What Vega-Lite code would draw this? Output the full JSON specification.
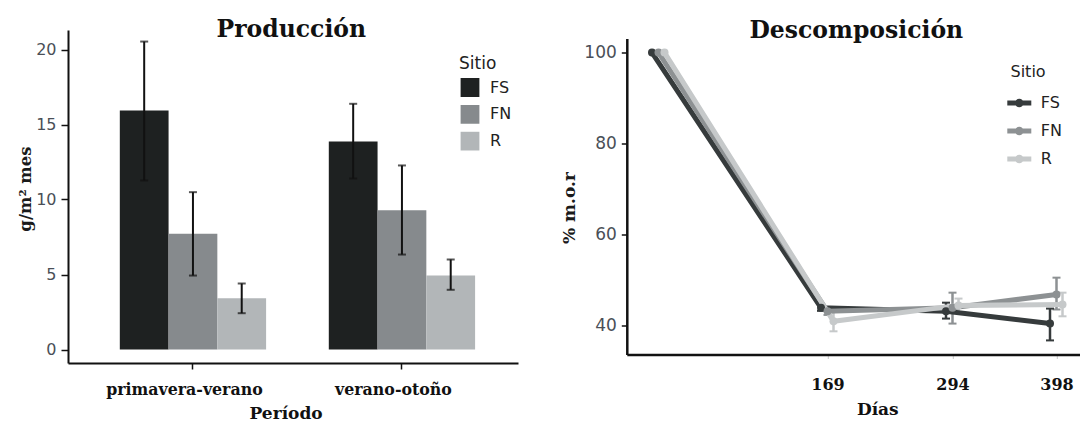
{
  "$schema": "https://vega.github.io/schema/vega-lite/v6.json",
  "background": "white",
  "padding": {"left": 17, "top": 17, "right": 0, "bottom": 0},
  "config": {
    "view": {"stroke": null},
    "axis": {"grid": false}
  },
  "datasets": {
    "produccion": [
      {"periodo": "primavera-verano", "sitio": "FS", "valor": 15.93, "min": 11.27, "max": 20.53},
      {"periodo": "primavera-verano", "sitio": "FN", "valor": 7.71, "min": 4.93, "max": 10.49},
      {"periodo": "primavera-verano", "sitio": "R", "valor": 3.42, "min": 2.42, "max": 4.4},
      {"periodo": "verano-otoño", "sitio": "FS", "valor": 13.87, "min": 11.4, "max": 16.38},
      {"periodo": "verano-otoño", "sitio": "FN", "valor": 9.29, "min": 6.33, "max": 12.27},
      {"periodo": "verano-otoño", "sitio": "R", "valor": 4.93, "min": 3.98, "max": 6.0}
    ],
    "descomposicion": [
      {"dias": 0, "sitio": "FS", "pct": 100, "min": null, "max": null},
      {"dias": 0, "sitio": "FN", "pct": 100, "min": null, "max": null},
      {"dias": 0, "sitio": "R", "pct": 100, "min": null, "max": null},
      {"dias": 169, "sitio": "FS", "pct": 43.9, "min": 43.2, "max": 44.6},
      {"dias": 169, "sitio": "FN", "pct": 43.1, "min": 42.3, "max": 43.9},
      {"dias": 169, "sitio": "R", "pct": 40.9, "min": 38.7, "max": 43.0},
      {"dias": 294, "sitio": "FS", "pct": 43.1, "min": 41.5, "max": 45.0},
      {"dias": 294, "sitio": "FN", "pct": 43.9, "min": 40.4, "max": 47.2},
      {"dias": 294, "sitio": "R", "pct": 44.4, "min": 42.8, "max": 45.9},
      {"dias": 398, "sitio": "FS", "pct": 40.4, "min": 36.7, "max": 43.7},
      {"dias": 398, "sitio": "FN", "pct": 46.8, "min": 43.5, "max": 50.5},
      {"dias": 398, "sitio": "R", "pct": 44.6, "min": 42.0, "max": 47.2}
    ]
  },
  "hconcat": [
    {
      "width": 450,
      "height": 333,
      "title": {"text": "Producción", "font": "DejaVu Serif", "fontSize": 23.5, "fontWeight": "bold", "color": "#111111", "baseline": "alphabetic", "offset": -30.4, "dx": -1.7},
      "data": {"name": "produccion"},
      "encoding": {
        "x": {
          "field": "periodo", "type": "nominal", "sort": ["primavera-verano", "verano-otoño"], "title": "Período",
          "scale": {"paddingInner": 0.3, "paddingOuter": 0.2266, "align": 0.547},
          "axis": {
            "labelFont": "DejaVu Serif", "labelFontSize": 15.8, "labelFontWeight": "bold", "labelColor": "#111111",
            "labelAngle": 0, "labelOffset": -8.5, "labelBaseline": "alphabetic", "labelPadding": 25,
            "tickSize": 6, "tickColor": "#111111", "tickWidth": 1.5, "domainColor": "#111111", "domainWidth": 2,
            "titleFont": "DejaVu Serif", "titleFontSize": 17, "titleFontWeight": "bold", "titleColor": "#111111",
            "titleX": 217.6, "titleY": 55.5, "titleBaseline": "alphabetic"
          }
        },
        "xOffset": {"field": "sitio", "type": "nominal", "sort": ["FS", "FN", "R"], "scale": {"paddingInner": 0, "paddingOuter": 0}}
      },
      "layer": [
        {
          "mark": {"type": "bar"},
          "encoding": {
            "y": {
              "field": "valor", "type": "quantitative", "title": "g/m² mes",
              "scale": {"domain": [-0.9, 21.3], "nice": false, "zero": false},
              "axis": {
                "values": [0, 5, 10, 15, 20], "labelFont": "DejaVu Sans", "labelFontSize": 16, "labelColor": "#4a4f57",
                "tickSize": 7, "tickColor": "#111111", "tickWidth": 1.5, "labelPadding": 5,
                "domainColor": "#111111", "domainWidth": 2,
                "titleFont": "DejaVu Serif", "titleFontSize": 16.5, "titleFontWeight": "bold", "titleColor": "#1a1a1a",
                "titleX": -43, "titleY": 158.5, "titleBaseline": "middle", "titleAngle": 270
              }
            },
            "y2": {"datum": 0},
            "color": {
              "field": "sitio", "type": "nominal",
              "scale": {"domain": ["FS", "FN", "R"], "range": ["#1e2121", "#868a8d", "#b2b6b8"]},
              "legend": {
                "orient": "none", "legendX": 391, "legendY": 25.5, "title": "Sitio", "padding": 0,
                "titleFont": "DejaVu Sans", "titleFontSize": 17, "titleFontWeight": "normal", "titleColor": "#222222", "titlePadding": 4,
                "labelFont": "DejaVu Sans", "labelFontSize": 16, "labelColor": "#222222", "labelOffset": 9,
                "symbolType": "square", "symbolSize": 400, "symbolStrokeColor": "#ffffff", "symbolStrokeWidth": 1.2,
                "rowPadding": 0.8
              }
            }
          }
        },
        {
          "mark": {"type": "rule", "color": "#111111", "strokeWidth": 2},
          "encoding": {
            "y": {"field": "min", "type": "quantitative", "title": "g/m² mes"},
            "y2": {"field": "max"}
          }
        },
        {
          "mark": {"type": "tick", "color": "#111111", "thickness": 2, "size": 8, "orient": "horizontal"},
          "encoding": {"y": {"field": "min", "type": "quantitative", "title": "g/m² mes"}}
        },
        {
          "mark": {"type": "tick", "color": "#111111", "thickness": 2, "size": 8, "orient": "horizontal"},
          "encoding": {"y": {"field": "max", "type": "quantitative", "title": "g/m² mes"}}
        }
      ]
    },
    {
      "width": 453,
      "height": 316,
      "title": {"text": "Descomposición", "font": "DejaVu Serif", "fontSize": 23.5, "fontWeight": "bold", "color": "#111111", "baseline": "alphabetic", "offset": -22.8, "dx": 3},
      "data": {"name": "descomposicion"},
      "encoding": {
        "x": {
          "field": "dias", "type": "quantitative", "title": "Días",
          "scale": {"domain": [-31.7, 421.3], "nice": false, "zero": false},
          "axis": {
            "values": [169, 294, 398], "labelFont": "DejaVu Serif", "labelFontSize": 16, "labelFontWeight": "bold", "labelColor": "#111111",
            "labelBaseline": "alphabetic", "labelPadding": 31, "labelFlush": false, "labelOverlap": false,
            "tickSize": 4, "tickColor": "#c8c8c8", "tickWidth": 1, "domainColor": "#111111", "domainWidth": 2.5,
            "titleFont": "DejaVu Serif", "titleFontSize": 17, "titleFontWeight": "bold", "titleColor": "#111111",
            "titleX": 250.5, "titleY": 60, "titleBaseline": "alphabetic"
          }
        },
        "color": {
          "field": "sitio", "type": "nominal",
          "scale": {"domain": ["FS", "FN", "R"], "range": ["#363b3c", "#8d9193", "#c6c9ca"]},
          "legend": {
            "orient": "none", "legendX": 383.7, "legendY": 25.4, "title": "Sitio", "padding": 0,
            "titleFont": "DejaVu Sans", "titleFontSize": 16, "titleFontWeight": "normal", "titleColor": "#222222", "titlePadding": 8.6,
            "labelFont": "DejaVu Sans", "labelFontSize": 16, "labelColor": "#222222", "labelOffset": 7,
            "symbolType": "M-1,0H1M-0.15,0A0.15,0.15,0,1,0,0.15,0A0.15,0.15,0,1,0,-0.15,0",
            "symbolSize": 576, "symbolStrokeWidth": 5, "symbolOffset": -5.7, "rowPadding": 1,
            "symbolFillColor": "transparent"
          }
        }
      },
      "layer": [
        {
          "mark": {"type": "rule", "strokeWidth": 2.5, "xOffset": {"expr": "datum.sitio == 'FS' ? -6.5 : datum.sitio == 'R' ? 6 : 0"}},
          "encoding": {
            "y": {
              "field": "min", "type": "quantitative", "title": "% m.o.r",
              "scale": {"domain": [33.6, 103.1], "nice": false, "zero": false},
              "axis": {
                "values": [40, 60, 80, 100], "labelFont": "DejaVu Sans", "labelFontSize": 17, "labelColor": "#4a4f57",
                "tickSize": 5.5, "tickColor": "#111111", "tickWidth": 1.5, "labelPadding": 5,
                "domainColor": "#111111", "domainWidth": 2.5,
                "titleFont": "DejaVu Serif", "titleFontSize": 17, "titleFontWeight": "bold", "titleColor": "#1a1a1a",
                "titleX": -57.4, "titleY": 169, "titleBaseline": "middle", "titleAngle": 270
              }
            },
            "y2": {"field": "max"}
          }
        },
        {
          "mark": {"type": "tick", "thickness": 2, "size": 8, "orient": "horizontal", "opacity": 1, "xOffset": {"expr": "datum.sitio == 'FS' ? -6.5 : datum.sitio == 'R' ? 6 : 0"}},
          "encoding": {"y": {"field": "min", "type": "quantitative", "title": "% m.o.r"}}
        },
        {
          "mark": {"type": "tick", "thickness": 2, "size": 8, "orient": "horizontal", "opacity": 1, "xOffset": {"expr": "datum.sitio == 'FS' ? -6.5 : datum.sitio == 'R' ? 6 : 0"}},
          "encoding": {"y": {"field": "max", "type": "quantitative", "title": "% m.o.r"}}
        },
        {
          "mark": {"type": "line", "strokeWidth": 5, "xOffset": {"expr": "datum.sitio == 'FS' ? -6.5 : datum.sitio == 'R' ? 6 : 0"}},
          "encoding": {
            "y": {"field": "pct", "type": "quantitative", "title": "% m.o.r"}
          }
        },
        {
          "mark": {"type": "circle", "size": 64, "opacity": 1, "xOffset": {"expr": "datum.sitio == 'FS' ? -6.5 : datum.sitio == 'R' ? 6 : 0"}},
          "encoding": {"y": {"field": "pct", "type": "quantitative", "title": "% m.o.r"}}
        }
      ]
    }
  ],
  "spacing": 108.8,
  "bounds": "flush",
  "center": true,
  "resolve": {"scale": {"color": "independent"}, "legend": {"color": "independent"}}
}
